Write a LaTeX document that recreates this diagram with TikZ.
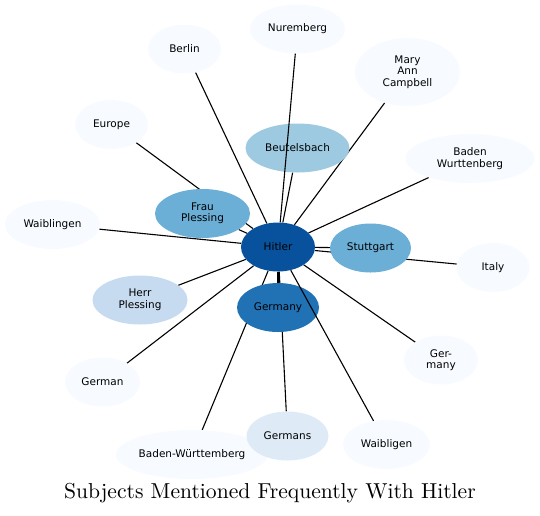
\documentclass[tikz,border=0pt]{standalone}
\usepackage{fontspec}
\newfontfamily\graphfont{DejaVu Sans}
\newfontfamily\titlefont{lmroman10-regular}[Extension=.otf]
\usepackage{tikz}
\usetikzlibrary{shapes.geometric,backgrounds}
\pgfdeclarelayer{front}
\pgfsetlayers{background,main,front}

\definecolor{blues0}{HTML}{F7FBFF}
\definecolor{blues1}{HTML}{DEEBF7}
\definecolor{blues2}{HTML}{C6DBEF}
\definecolor{blues3}{HTML}{9ECAE1}
\definecolor{blues4}{HTML}{6BAED6}
\definecolor{blues5}{HTML}{2171B5}
\definecolor{blues6}{HTML}{08519C}

\begin{document}
\begin{tikzpicture}[
  x=1pt, y=-1pt,
  topic/.style={ellipse, inner sep=0pt, minimum height=49pt, fill=blues0,
    align=center, font=\graphfont\fontsize{10.5}{11.5}\selectfont},
  link/.style={line width=1.1pt, black}
]
\useasboundingbox (0,0) rectangle (540,515);

% Hub, drawn over its own links
\begin{pgfonlayer}{front}
\node[topic, fill=blues6, minimum width=74pt] (hitler) at (278,247) {Hitler};
\end{pgfonlayer}

% Topics round the hub
\node[topic, minimum width=73pt] (berlin) at (184.5,49) {Berlin};
\node[topic, minimum width=95pt] (nuremberg) at (297.5,29) {Nuremberg};
\node[topic, minimum width=105pt, minimum height=68pt] (campbell) at (407.5,72)
  {Mary\\Ann\\Campbell};
\node[topic, minimum width=73pt] (europe) at (111.5,124.5) {Europe};
\node[topic, fill=blues3, minimum width=104pt] (beutelsbach) at (297.5,148) {Beutelsbach};
\node[topic, minimum width=129pt] (badenw) at (470,158.5) {Baden\\Wurttenberg};
\node[topic, fill=blues4, minimum width=95pt] (frau) at (202.5,213.5) {Frau\\Plessing};
\node[topic, minimum width=95pt] (waiblingen) at (52.5,224.5) {Waiblingen};
\node[topic, fill=blues4, minimum width=81pt] (stuttgart) at (370.5,248) {Stuttgart};
\node[topic, minimum width=73pt] (italy) at (493,267.5) {Italy};
\node[topic, fill=blues2, minimum width=95pt] (herr) at (140,300) {Herr\\Plessing};
\node[topic, fill=blues5, minimum width=82pt] (germany) at (278,307.5) {Germany};
\node[topic, minimum width=75pt] (german) at (102.5,382) {German};
\node[topic, minimum width=74pt] (germany2) at (441,360) {Ger-\\many};
\node[topic, minimum width=152pt] (badenwue) at (192,454.5) {Baden-Württemberg};
\node[topic, fill=blues1, minimum width=82pt] (germans) at (287.5,436) {Germans};
\node[topic, minimum width=87pt] (waibligen) at (386.5,444.5) {Waibligen};

% Links hidden behind the nodes they pass
\begin{pgfonlayer}{background}
\foreach \t in {berlin,campbell,europe,beutelsbach,badenw,frau,waiblingen,
  stuttgart,italy,herr,germany,german,germany2,badenwue,germans}
  \draw[link] (hitler) -- (\t);
\end{pgfonlayer}

% These two run over Beutelsbach and Germany
\draw[link] (hitler) -- (nuremberg);
\draw[link] (hitler) -- (waibligen);

% Title
\node[font=\titlefont\fontsize{21.6}{26}\selectfont] (title) at (270,493)
  {Subjects Mentioned Frequently With Hitler};

\end{tikzpicture}
\end{document}
